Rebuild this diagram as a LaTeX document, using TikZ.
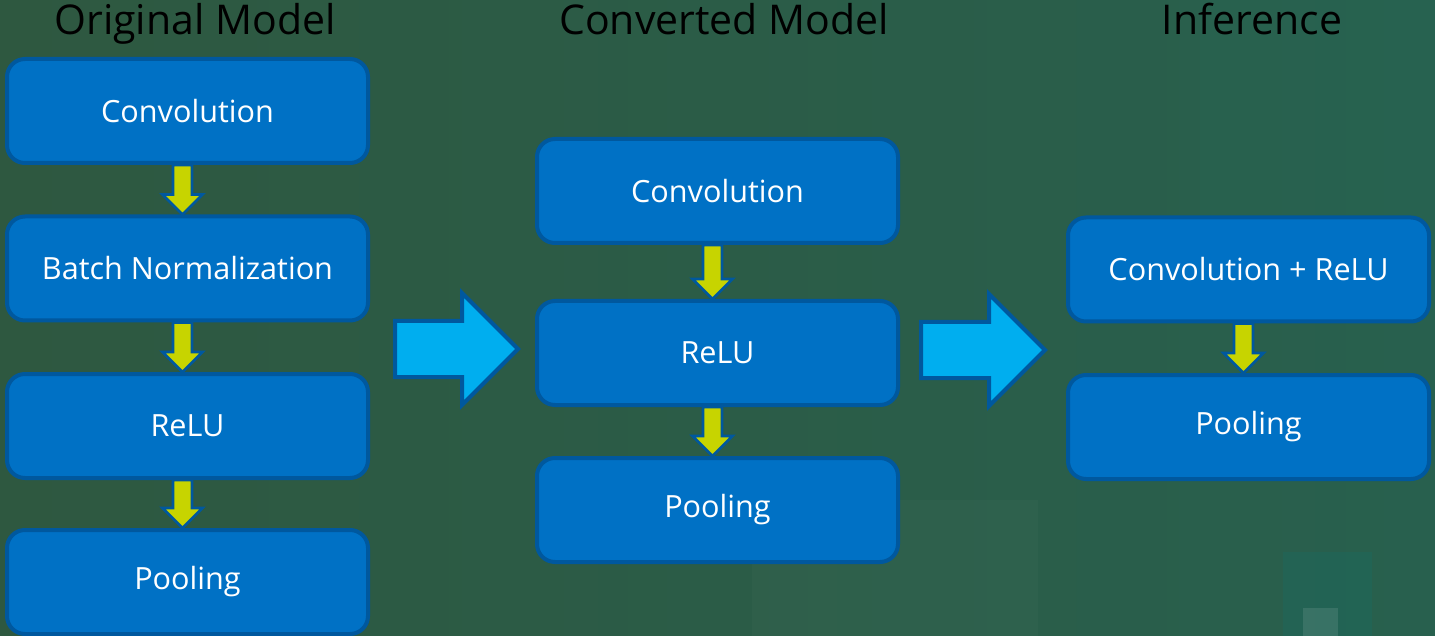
\documentclass[tikz,border=0pt]{standalone}
\usepackage{fontspec}
\setmainfont{Open Sans}
\usetikzlibrary{calc}
\definecolor{boxblue}{RGB}{0,113,197}
\definecolor{edgeblue}{RGB}{0,88,158}
\definecolor{skyblue}{RGB}{0,174,239}
\definecolor{lime}{RGB}{199,212,0}
\definecolor{bgleft}{RGB}{46,88,64}
\definecolor{bgright}{RGB}{40,96,78}
\tikzstyle{layer}=[draw=edgeblue,fill=boxblue,line width=2pt,rounded corners=9pt,
  minimum width=180.5pt,minimum height=52pt,text=white,font=\fontsize{15.3}{18}\selectfont]
\tikzstyle{title}=[anchor=base,text=black,font=\fontsize{20.5}{24}\selectfont]
\tikzstyle{drop}=[fill=lime,draw=edgeblue,line width=1.4pt,line join=miter]
\tikzstyle{stage}=[fill=skyblue,draw=edgeblue,line width=2pt,line join=miter]

\begin{document}
\begin{tikzpicture}[x=0.5pt,y=-0.5pt]
  \useasboundingbox (0,0) rectangle (1435,636);
  \clip (0,0) rectangle (1435,636);
  % backdrop
  \shade[left color=bgleft,right color=bgright] (0,0) rectangle (1435,636);
  \fill[bgright!80!cyan,opacity=0.08] (1200,0) rectangle (1435,320);
  \fill[white,opacity=0.02] (752,500) rectangle (1038,636);
  \fill[teal!70!bgright,opacity=0.2] (1283,552) rectangle (1372,636);
  \fill[white,opacity=0.1] (1303,608) rectangle (1338,636);

  % column headings
  \node[title] (h1) at (195,35) {Original Model};
  \node[title] (h2) at (724,35) {Converted Model};
  \node[title] (h3) at (1252,35) {Inference};

  % layers
  \foreach \place/\name/\lbl in {{(187.5,111)/a/Convolution},
                                 {(187.5,268.5)/b/Batch Normalization},
                                 {(187.5,426)/c/ReLU},
                                 {(187.5,582)/d/Pooling}}
    \node[layer] (\name) at \place {\lbl};
  \foreach \place/\name/\lbl in {{(717.5,191)/e/Convolution},
                                 {(717.5,353)/f/ReLU},
                                 {(717.5,510)/g/Pooling}}
    \node[layer] (\name) at \place {\lbl};
  \foreach \place/\name/\lbl in {{(1248.5,269.5)/h/Convolution + ReLU},
                                 {(1248.5,427)/i/Pooling}}
    \node[layer] (\name) at \place {\lbl};

  % data flow between layers
  \foreach \source/\dest in {a/b,b/c,c/d,e/f,f/g,h/i}
    \draw[drop] ($(\source.south)+(-14.5,0)$) -- ($(\dest.north)+(-14.5,-20)$)
      -- ($(\dest.north)+(-25,-20)$) -- ($(\dest.north)+(-5,0)$)
      -- ($(\dest.north)+(15,-20)$) -- ($(\dest.north)+(4.5,-20)$)
      -- ($(\source.south)+(4.5,0)$) -- cycle;

  % conversion steps
  \coordinate (s1) at (395,349);
  \coordinate (t1) at (518,349);
  \coordinate (s2) at (921,350);
  \coordinate (t2) at (1045,350);
  \foreach \source/\dest in {s1/t1,s2/t2}
    \draw[stage] ($(\source)+(0,-28)$) -- ($(\dest)+(-56,-28)$)
      -- ($(\dest)+(-56,-56)$) -- (\dest) -- ($(\dest)+(-56,56)$)
      -- ($(\dest)+(-56,28)$) -- ($(\source)+(0,28)$) -- cycle;
\end{tikzpicture}
\end{document}
